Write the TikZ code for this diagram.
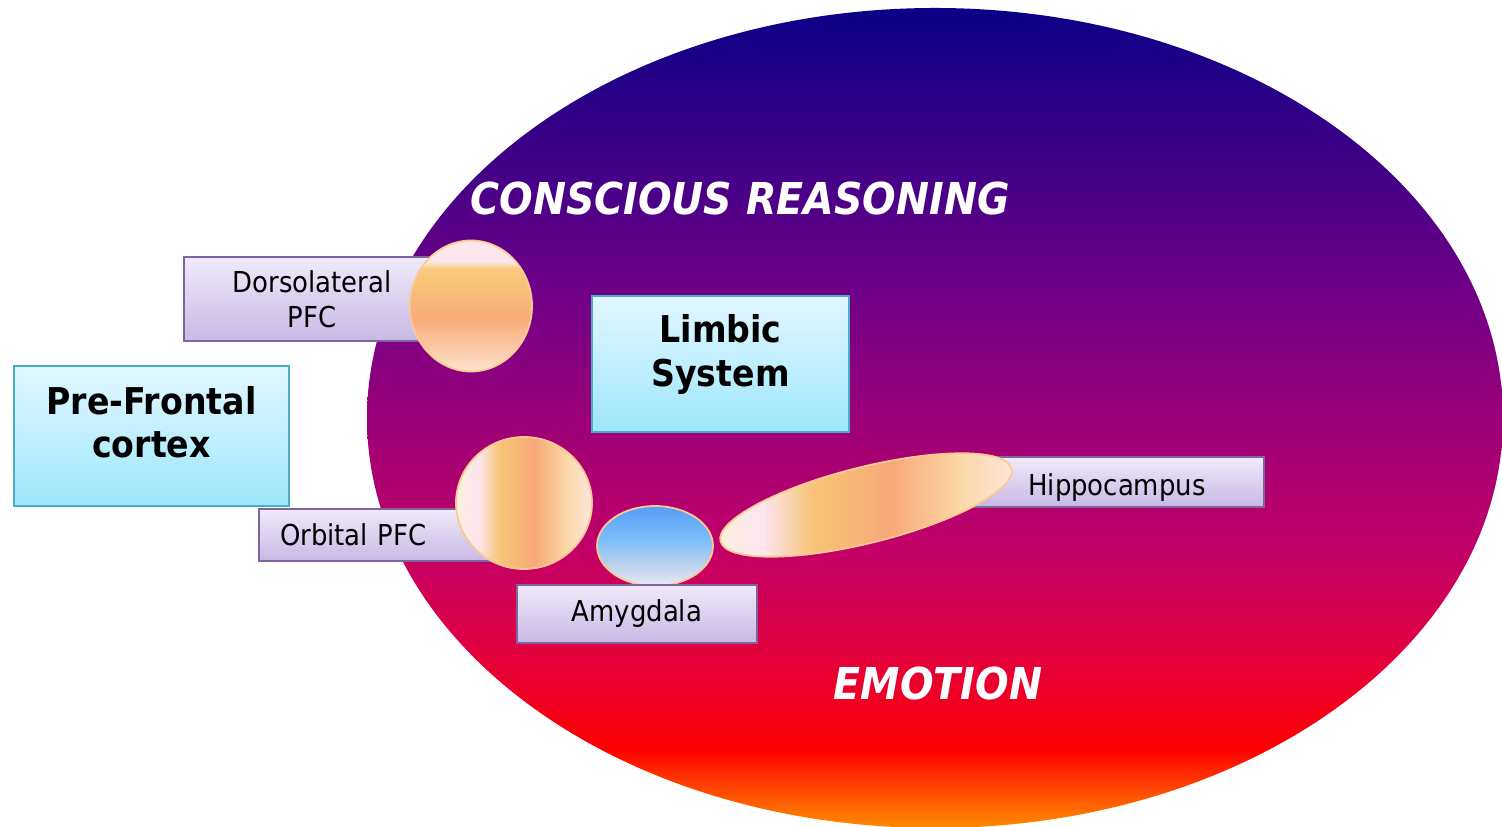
\documentclass[tikz,border=0pt]{standalone}
\usepackage{fontspec}
\setmainfont{DejaVu Sans Condensed}[
  BoldFont={DejaVu Sans Condensed Bold},
  ItalicFont={DejaVu Sans Condensed Oblique},
  BoldItalicFont={DejaVu Sans Condensed Bold Oblique}]
\usetikzlibrary{shapes.geometric}

\definecolor{brcyanline}{RGB}{75,172,198}
\definecolor{brcyantop}{RGB}{226,248,255}
\definecolor{brcyanbot}{RGB}{158,230,252}
\definecolor{brlavline}{RGB}{128,100,162}
\definecolor{brlavtop}{RGB}{240,234,249}
\definecolor{brlavbot}{RGB}{200,184,228}
\definecolor{brblobline}{RGB}{250,200,145}

% background: navy at the top, red and orange at the bottom
\pgfdeclareverticalshading{brfield}{100bp}{
  rgb(0bp)=(1,0.55,0); rgb(25bp)=(1,0.55,0);
  rgb(29.8bp)=(1,0,0); rgb(32.8bp)=(0.94,0,0.13);
  rgb(35.9bp)=(0.88,0,0.25); rgb(42bp)=(0.76,0,0.41);
  rgb(49.9bp)=(0.61,0,0.47); rgb(57.2bp)=(0.45,0,0.53);
  rgb(63.3bp)=(0.30,0,0.53); rgb(75bp)=(0.04,0,0.53);
  rgb(100bp)=(0.04,0,0.53)}
\pgfdeclareverticalshading{brpeachV}{100bp}{
  rgb(0bp)=(0.99,0.89,0.80); rgb(25bp)=(0.99,0.89,0.80);
  rgb(35bp)=(0.98,0.78,0.64); rgb(45bp)=(0.97,0.67,0.48);
  rgb(60bp)=(0.97,0.77,0.47); rgb(64.5bp)=(0.98,0.80,0.50);
  rgb(67bp)=(0.99,0.91,0.93); rgb(75bp)=(0.99,0.91,0.92);
  rgb(100bp)=(0.99,0.91,0.92)}
\pgfdeclarehorizontalshading{brpeachH}{100bp}{
  rgb(0bp)=(0.99,0.94,0.87); rgb(25bp)=(0.99,0.94,0.87);
  rgb(33bp)=(0.99,0.90,0.94); rgb(41bp)=(0.97,0.77,0.47);
  rgb(54bp)=(0.97,0.66,0.47); rgb(66bp)=(0.99,0.85,0.66);
  rgb(75bp)=(0.99,0.90,0.87); rgb(100bp)=(0.99,0.90,0.87)}
\pgfdeclareverticalshading{brblue}{100bp}{
  rgb(0bp)=(0.92,0.91,0.95); rgb(25bp)=(0.92,0.91,0.95);
  rgb(39bp)=(0.72,0.82,0.93); rgb(53bp)=(0.50,0.75,0.98);
  rgb(72bp)=(0.36,0.63,0.97); rgb(100bp)=(0.36,0.62,0.97)}

\tikzset{
  brcyan/.style={draw=brcyanline, semithick, top color=brcyantop, bottom color=brcyanbot, align=center, inner sep=0pt, font=\bfseries\fontsize{10.5}{12.5}\selectfont},
  brlav/.style={draw=brlavline, semithick, top color=brlavtop, bottom color=brlavbot, align=center, inner sep=0pt, font=\fontsize{8.2}{10}\selectfont},
  brblob/.style={ellipse, draw=brblobline, line width=0.5pt, inner sep=0pt},
  brtitle/.style={text=white, font=\bfseries\itshape\fontsize{12.5}{14}\selectfont}
}

\begin{document}
\begin{tikzpicture}[x=1cm,y=1cm]
  \clip (0,0) rectangle (15.02,8.26);
  \shade[shading=brfield] (9.35,4.08) ellipse [x radius=5.68, y radius=4.10];

  \node[brcyan, minimum width=2.75cm, minimum height=1.40cm, text depth=0.28cm] (pfc) at (1.515,3.90) {Pre-Frontal\\cortex};
  \node[brcyan, minimum width=2.57cm, minimum height=1.36cm, text depth=0.27cm] (limbic) at (7.205,4.62) {Limbic\\System};

  \node[brlav, minimum width=2.56cm, minimum height=0.84cm] (dlbox) at (3.12,5.27) {Dorsolateral\\PFC};
  \node[brblob, shading=brpeachV, minimum width=1.22cm, minimum height=1.31cm] (dlpfc) at (4.71,5.20) {};

  \node[brlav, minimum width=2.41cm, minimum height=0.52cm, inner xsep=0.21cm, text width=1.99cm, align=left] (orbox) at (3.795,2.91) {Orbital PFC};
  \node[brblob, shading=brpeachH, minimum width=1.36cm, minimum height=1.32cm] (orbital) at (5.24,3.23) {};

  \node[brblob, shading=brblue, minimum width=1.16cm, minimum height=0.80cm] (amyg) at (6.55,2.80) {};
  \node[brlav, minimum width=2.40cm, minimum height=0.58cm] (amybox) at (6.37,2.12) {Amygdala};

  \node[brlav, minimum width=3.04cm, minimum height=0.50cm, text height=0.34cm] (hipbox) at (11.12,3.44) {\hspace{0.1cm}Hippocampus};
  \node[brblob, shading=brpeachH, rotate=14, minimum width=3.00cm, minimum height=0.76cm] (hippo) at (8.66,3.21) {};

  \node[brtitle] (reason) at (7.40,6.27) {CONSCIOUS REASONING};
  \node[brtitle] (emotion) at (9.38,1.42) {EMOTION};
\end{tikzpicture}
\end{document}
